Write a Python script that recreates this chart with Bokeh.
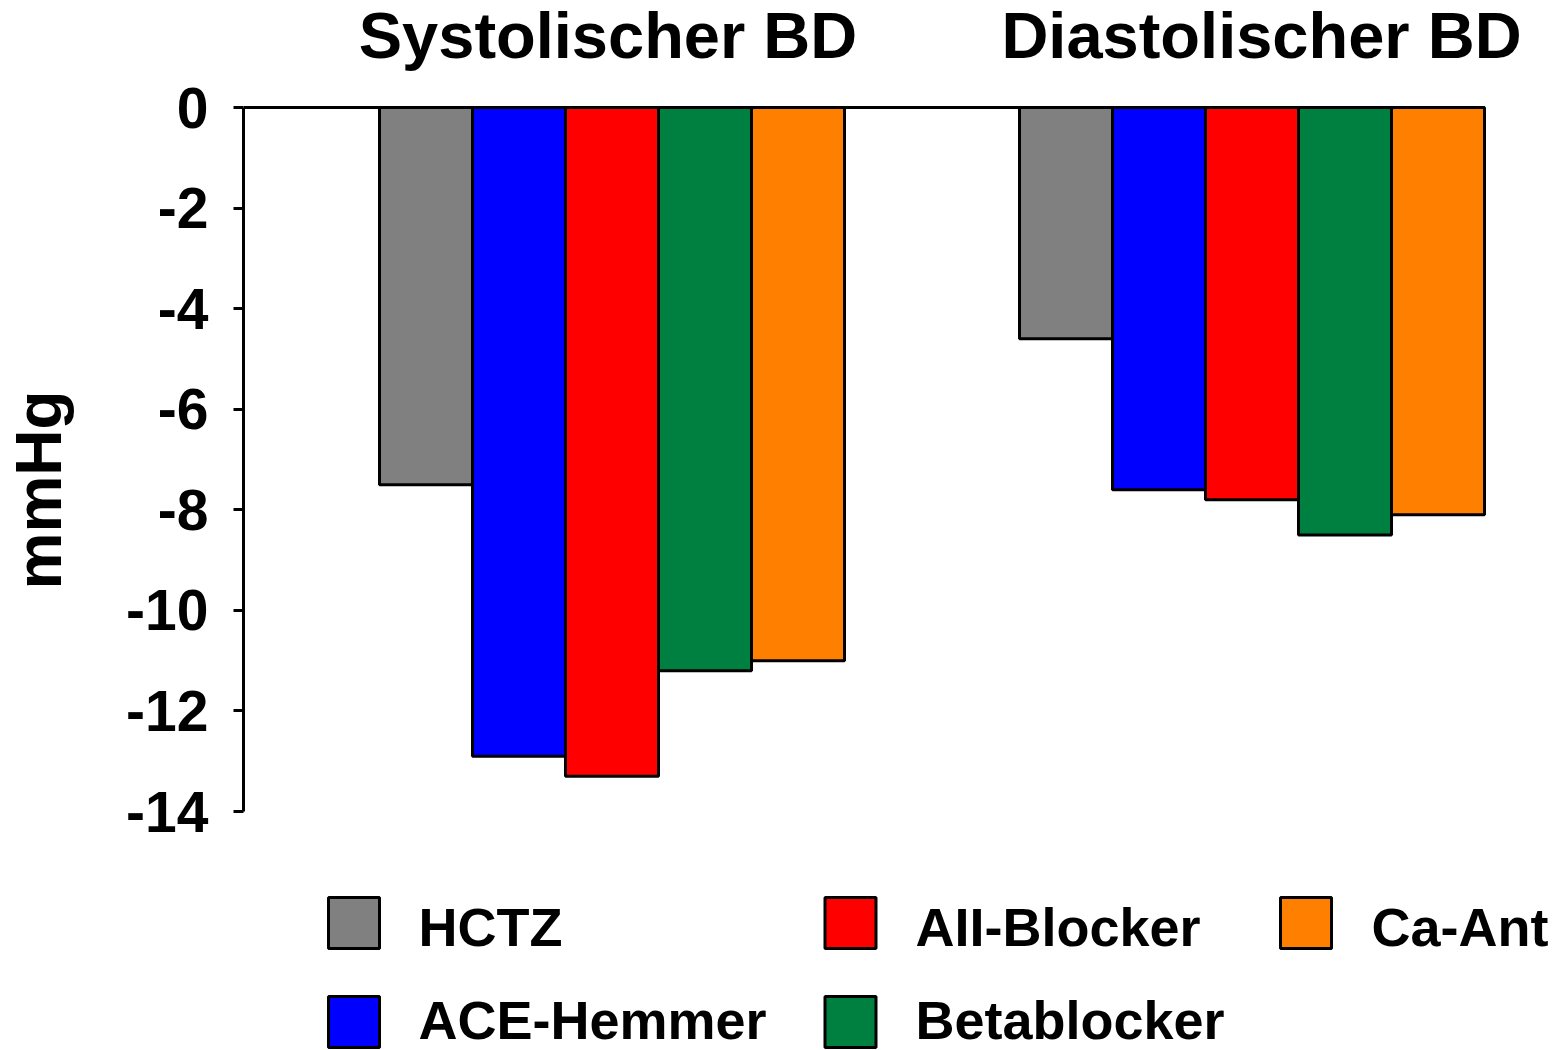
from bokeh.plotting import figure
from bokeh.models import Range1d, FixedTicker, ColumnDataSource, LinearAxis
from bokeh.core.properties import value
from bokeh.embed import file_html
from bokeh.resources import INLINE

# ---------------- data ----------------
groups = ["Systolischer BD", "Diastolischer BD"]
series = ["HCTZ", "ACE-Hemmer", "AII-Blocker", "Betablocker", "Ca-Ant"]
colors = ["#808080", "#0000FF", "#FF0000", "#008040", "#FF8000"]
systolic = [-7.5, -12.9, -13.3, -11.2, -11.0]
diastolic = [-4.6, -7.6, -7.8, -8.5, -8.1]
values_by_group = [systolic, diastolic]
y_ticks = [0, -2, -4, -6, -8, -10, -12, -14]
y_tick_labels = ["0", "-2", "-4", "-6", "-8", "-10", "-12", "-14"]
y_label = "mmHg"

# ---------------- layout ----------------
FONT = "Liberation Sans"
W, H = 1555, 1050
LEFT = 243
ZERO_PX = 107                    # canvas row of the zero line
PX = 50.286                      # pixels per mmHg
y_top = ZERO_PX / PX
y_bot = y_top - H / PX


def row(px):
    """canvas row -> data y"""
    return (ZERO_PX - px) / PX


group_centers = [368.5, 1008.5]
bar_w = 93

p = figure(width=W, height=H, output_backend="svg", toolbar_location=None,
           x_range=Range1d(0, W - LEFT), y_range=Range1d(y_bot, y_top),
           x_axis_type=None, y_axis_type=None,
           min_border_left=LEFT, min_border_right=0, min_border_top=0, min_border_bottom=0)
p.outline_line_color = None
p.grid.visible = False
p.background_fill_color = "white"
p.border_fill_color = "white"

yaxis = LinearAxis(ticker=FixedTicker(ticks=y_ticks), bounds=(min(y_ticks), max(y_ticks)))
yaxis.major_label_overrides = {t: s for t, s in zip(y_ticks, y_tick_labels)}
yaxis.major_label_text_font = FONT
yaxis.major_label_text_font_style = "bold"
yaxis.major_label_text_font_size = "57px"
yaxis.major_label_text_color = "black"
yaxis.major_label_standoff = 25
yaxis.major_tick_out = 10
yaxis.major_tick_in = 0
yaxis.minor_tick_line_color = None
yaxis.axis_line_width = 3
yaxis.major_tick_line_width = 3
yaxis.axis_line_color = "black"
yaxis.major_tick_line_color = "black"
# axis title: leading no-break spaces lift the centred text to sit beside the bars
yaxis.axis_label = "\u00a0" * 4 + y_label
yaxis.axis_label_standoff = 48
yaxis.axis_label_text_font = FONT
yaxis.axis_label_text_font_style = "bold"
yaxis.axis_label_text_font_size = "64px"
yaxis.axis_label_text_color = "black"
p.add_layout(yaxis, "left")

# bars
for g, vals in enumerate(values_by_group):
    xs = [group_centers[g] + (i - (len(series) - 1) / 2) * bar_w for i in range(len(series))]
    src = ColumnDataSource(dict(x=xs, top=[0] * len(vals), bottom=vals, color=colors))
    p.vbar(x="x", width=bar_w, top="top", bottom="bottom", fill_color="color",
           line_color="black", line_width=3, source=src)

# zero line
right_edge = group_centers[-1] + len(series) / 2 * bar_w
p.segment(x0=[0], y0=[0], x1=[right_edge], y1=[0], line_color="black", line_width=3)

# group titles
p.text(x=[364.5, 1018], y=[row(35)] * 2, text=groups, text_align="center",
       text_baseline="middle", text_font=value(FONT), text_font_style="bold",
       text_font_size="65px", text_color="black")

# legend (2 rows, column-major)
col_box_x = [110.5, 607, 1062.5]
col_text_x = [175, 672, 1128]
box_rows = [row(922.5), row(1021.5)]
text_rows = [row(926), row(1019)]
bx, by, tx, ty = [], [], [], []
for k in range(len(series)):
    c, r = k // 2, k % 2
    bx.append(col_box_x[c]); by.append(box_rows[r])
    tx.append(col_text_x[c]); ty.append(text_rows[r])
p.scatter(x=bx, y=by, marker="square", size=51, fill_color=colors,
          line_color="black", line_width=3)
p.text(x=tx, y=ty, text=series, text_align="left", text_baseline="middle",
       text_font=value(FONT), text_font_style="bold", text_font_size="54px",
       text_color="black")

open("out.html", "w").write(file_html(p, INLINE))
